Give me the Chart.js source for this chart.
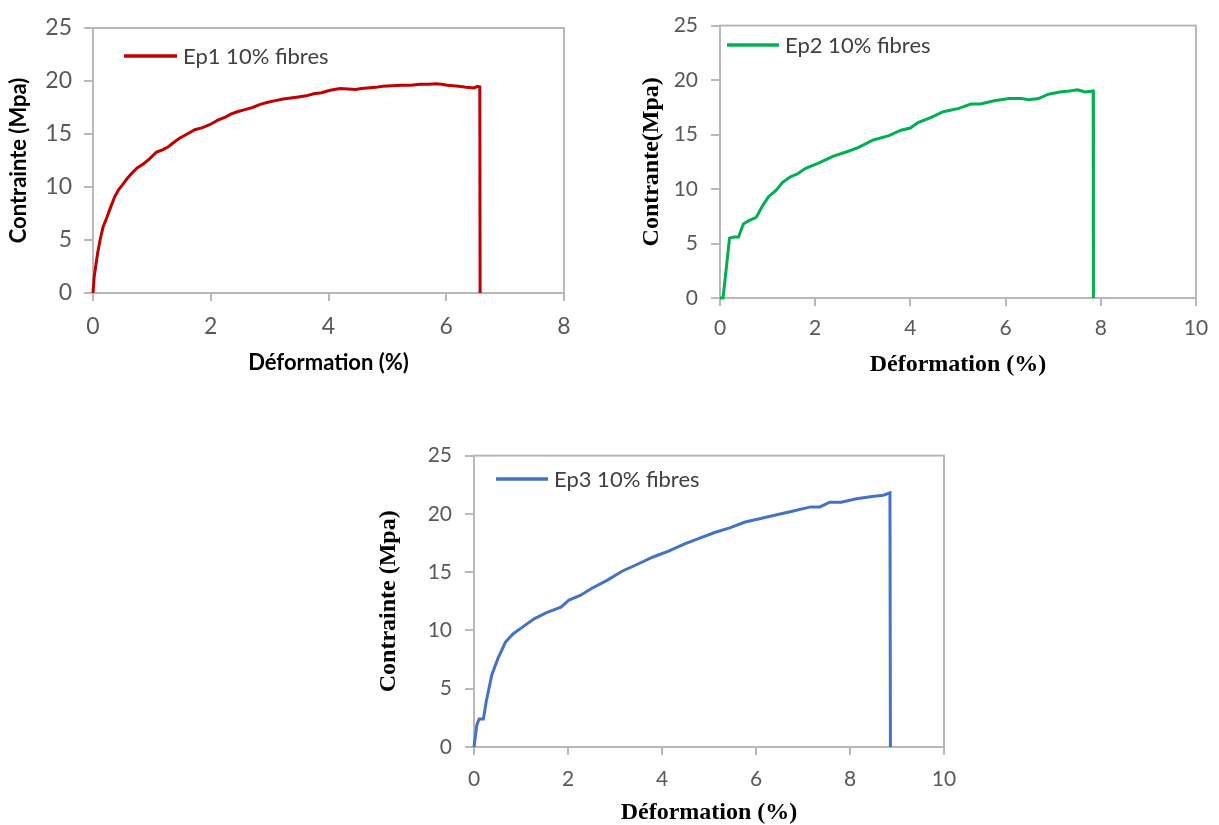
<!DOCTYPE html>
<html>
<head>
<meta charset="utf-8">
<script src="https://cdn.jsdelivr.net/npm/chart.js@4.4.0/dist/chart.umd.min.js"></script>
<style>
  html, body { margin: 0; padding: 0; background: #fff; overflow: hidden; width: 1219px; height: 825px; }
  canvas { position: absolute; }
</style>
</head>
<body>
<canvas id="chart1" width="610" height="400" style="left:0;top:0"></canvas>
<canvas id="chart2" width="609" height="400" style="left:610px;top:0"></canvas>
<canvas id="chart3" width="600" height="395" style="left:370px;top:430px"></canvas>
<script>
// Ep1 - déformation (%) / contrainte (MPa)
const ep1Strain = [0, 0.02, 0.045, 0.08, 0.12, 0.17, 0.24, 0.3, 0.37, 0.43, 0.5, 0.58, 0.66, 0.75, 0.86, 0.95, 1.08,
  1.18, 1.28, 1.37, 1.47, 1.6, 1.73, 1.86, 1.99, 2.12, 2.25, 2.35, 2.45, 2.58, 2.71, 2.84, 2.97,
  3.1, 3.23, 3.36, 3.49, 3.62, 3.75, 3.88, 4.01, 4.1, 4.2, 4.33, 4.46, 4.56, 4.66, 4.8, 4.92, 5.08, 5.24, 5.4,
  5.56, 5.7, 5.82, 5.92, 6.02, 6.12, 6.21, 6.34, 6.47, 6.53, 6.57, 6.575];
const ep1Stress = [0, 1.5, 2.5, 3.8, 5.0, 6.2, 7.2, 8.1, 9.1, 9.7, 10.2, 10.8, 11.3, 11.8, 12.2, 12.6, 13.3,
  13.5, 13.8, 14.2, 14.6, 15.0, 15.4, 15.6, 15.9, 16.3, 16.6, 16.9, 17.1, 17.3, 17.5, 17.8, 18.0,
  18.15, 18.3, 18.4, 18.5, 18.6, 18.8, 18.9, 19.1, 19.2, 19.3, 19.25, 19.2, 19.3, 19.35, 19.4, 19.5, 19.55, 19.6, 19.6,
  19.7, 19.7, 19.75, 19.7, 19.6, 19.55, 19.5, 19.4, 19.35, 19.5, 19.45, 0];

// Ep2
const ep2Strain = [0, 0.065, 0.2, 0.29, 0.39, 0.49, 0.61, 0.76, 0.9, 1.02, 1.18, 1.31, 1.47, 1.63, 1.8, 2.08, 2.37,
  2.65, 2.9, 3.22, 3.55, 3.8, 4.0, 4.16, 4.45, 4.69, 5.02, 5.27, 5.47, 5.76, 6.08, 6.33, 6.49, 6.69, 6.9, 7.14,
  7.35, 7.51, 7.67, 7.84, 7.845];
const ep2Stress = [0, 0, 5.5, 5.6, 5.6, 6.8, 7.1, 7.4, 8.5, 9.3, 9.9, 10.6, 11.1, 11.4, 11.9, 12.4, 13.0,
  13.4, 13.8, 14.5, 14.9, 15.4, 15.6, 16.1, 16.6, 17.1, 17.4, 17.8, 17.8, 18.1, 18.3, 18.3, 18.2, 18.3, 18.7, 18.9,
  19.0, 19.1, 18.9, 19.0, 0];

// Ep3
const ep3Strain = [0, 0.06, 0.11, 0.2, 0.26, 0.38, 0.51, 0.67, 0.83, 1.0, 1.28, 1.53, 1.85, 2.02, 2.26, 2.5, 2.83,
  3.16, 3.49, 3.81, 4.14, 4.47, 4.79, 5.12, 5.44, 5.77, 6.1, 6.42, 6.75, 7.16, 7.36, 7.57, 7.81, 8.14, 8.47, 8.71,
  8.85, 8.86];
const ep3Stress = [0, 1.9, 2.4, 2.4, 3.9, 6.2, 7.6, 9.0, 9.7, 10.2, 11.0, 11.5, 12.0, 12.6, 13.0, 13.6, 14.3,
  15.1, 15.7, 16.3, 16.8, 17.4, 17.9, 18.4, 18.8, 19.3, 19.6, 19.9, 20.2, 20.6, 20.6, 21.0, 21.0, 21.3, 21.5, 21.6,
  21.8, 0];

const yTicks = [0, 5, 10, 15, 20, 25];

const AXIS_COLOR = '#b8b8b8';
const TICK_COLOR = '#595959';

// cadre gris autour de la zone de tracé
const framePlugin = {
  id: 'frame',
  beforeDatasetsDraw(chart) {
    const { ctx, chartArea: a } = chart;
    ctx.save();
    ctx.strokeStyle = AXIS_COLOR;
    ctx.lineWidth = 2;
    ctx.strokeRect(a.left, a.top, a.right - a.left, a.bottom - a.top);
    ctx.restore();
  }
};

// légende dans la zone de tracé (comme Excel)
const insideLegend = {
  id: 'insideLegend',
  afterDatasetsDraw(chart, args, opts) {
    const ds = chart.data.datasets[0];
    const ctx = chart.ctx;
    ctx.save();
    ctx.strokeStyle = ds.borderColor;
    ctx.lineWidth = 3.5;
    ctx.beginPath();
    ctx.moveTo(opts.x, opts.y);
    ctx.lineTo(opts.x + opts.len, opts.y);
    ctx.stroke();
    ctx.font = '22px Lato';
    ctx.fillStyle = '#404040';
    ctx.textBaseline = 'middle';
    ctx.fillText(ds.label, opts.x + opts.len + 6, opts.y + 1);
    ctx.restore();
  }
};

function toPoints(xs, ys) {
  return xs.map((x, i) => ({ x: x, y: ys[i] }));
}

function drawChart(id, c) {
  const ctx = document.getElementById(id).getContext('2d');
  return new Chart(ctx, {
    type: 'scatter',
    data: {
      datasets: [{
        label: c.label,
        data: toPoints(c.xs, c.ys),
        showLine: true,
        borderColor: c.color,
        backgroundColor: c.color,
        borderWidth: 3,
        pointRadius: 0,
        tension: 0,
        clip: false
      }]
    },
    options: {
      responsive: false,
      animation: false,
      layout: { padding: c.padding },
      scales: {
        x: {
          type: 'linear',
          min: 0,
          max: c.xMax,
          afterFit: s => { s.height = c.xHeight; },
          border: { color: AXIS_COLOR, width: 2 },
          grid: { drawOnChartArea: false, drawTicks: true, tickLength: 8, color: AXIS_COLOR, lineWidth: 2 },
          ticks: { stepSize: 2, padding: c.xTickPad, color: TICK_COLOR, font: { family: 'Lato', size: c.tickSize } },
          title: { display: true, text: 'Déformation (%)', color: '#000',
                   font: c.titleFont, padding: { top: 0, bottom: c.xTitlePad } }
        },
        y: {
          min: 0,
          max: 25,
          afterFit: s => { s.width = c.yWidth; },
          afterBuildTicks: s => { s.ticks = yTicks.map(v => ({ value: v })); },
          border: { color: AXIS_COLOR, width: 2 },
          grid: { drawOnChartArea: false, drawTicks: true, tickLength: 9, color: AXIS_COLOR, lineWidth: 2 },
          ticks: { padding: c.yTickPad, color: TICK_COLOR, font: { family: 'Lato', size: c.tickSize } },
          title: { display: true, text: c.yTitle, color: '#000',
                   font: c.titleFont, padding: { top: c.yTitlePad, bottom: 0 } }
        }
      },
      plugins: {
        legend: { display: false },
        tooltip: { enabled: false },
        insideLegend: c.legendPos
      }
    },
    plugins: [framePlugin, insideLegend]
  });
}

drawChart('chart1', {
  label: 'Ep1 10% fibres', color: '#c00000', xs: ep1Strain, ys: ep1Stress, xMax: 8,
  yTitle: 'Contrainte (Mpa)',
  titleFont: { family: 'Lato', size: 22, weight: 'bold' },
  tickSize: 23,
  padding: { left: 0, top: 28, right: 46, bottom: 24 },
  yWidth: 93, xHeight: 83, xTickPad: 12, xTitlePad: 0, yTitlePad: 6, yTickPad: 12,
  legendPos: { x: 124, y: 56, len: 53 }
});

drawChart('chart2', {
  label: 'Ep2 10% fibres', color: '#00b050', xs: ep2Strain, ys: ep2Stress, xMax: 10,
  yTitle: 'Contrante(Mpa)',
  titleFont: { family: 'Liberation Serif', size: 24, weight: 'bold' },
  tickSize: 21,
  padding: { left: 0, top: 19, right: 23, bottom: 21 },
  yWidth: 110, xHeight: 81, xTickPad: 10, xTitlePad: 0, yTitlePad: 27, yTickPad: 13,
  legendPos: { x: 117, y: 45, len: 52 }
});

drawChart('chart3', {
  label: 'Ep3 10% fibres', color: '#4472c4', xs: ep3Strain, ys: ep3Stress, xMax: 10,
  yTitle: 'Contrainte (Mpa)',
  titleFont: { family: 'Liberation Serif', size: 24, weight: 'bold' },
  tickSize: 21,
  padding: { left: 0, top: 19, right: 26, bottom: 0 },
  yWidth: 104, xHeight: 78, xTickPad: 12, xTitlePad: -2, yTitlePad: 4, yTickPad: 13,
  legendPos: { x: 126, y: 49, len: 52 }
});
</script>
</body>
</html>
